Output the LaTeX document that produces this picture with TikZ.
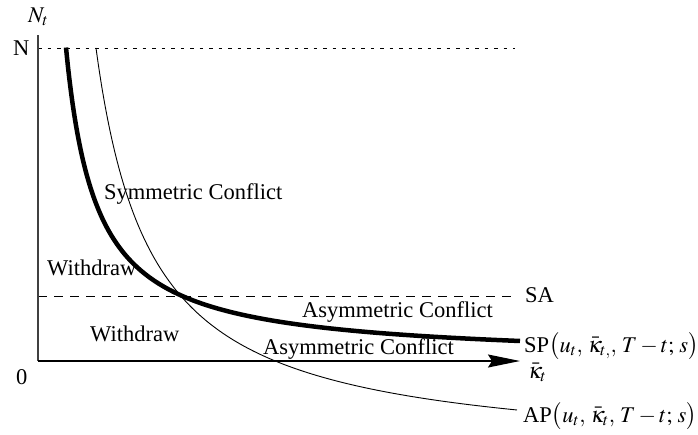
\documentclass[tikz,border=0pt]{standalone}
\usepackage{mathptmx}
\usepackage{fontspec}
\setmainfont{Liberation Serif}
\usetikzlibrary{arrows.meta}
\begin{document}
\begin{tikzpicture}[x=1pt,y=-1pt,
  lbl/.style={inner sep=0pt, anchor=base west, font=\fontsize{22.5}{27}\selectfont},
  axis/.style={line width=1.3pt, draw=black!75},
  thickcurve/.style={line width=4.5pt},
  thincurve/.style={line width=0.9pt},
  levelN/.style={line width=0.9pt, dash pattern=on 3.5pt off 6pt},
  levelSA/.style={line width=0.9pt, dash pattern=on 9pt off 7pt}]
\useasboundingbox (0,0) rectangle (698,434);
\coordinate (O) at (38,361);
\coordinate (Ytop) at (38,35);
\coordinate (Xend) at (520,361);
\coordinate (Nl) at (38,48);
\coordinate (Nr) at (515,48);
\coordinate (SAl) at (38,296);
\coordinate (SAr) at (518,296);
% levels
\draw[levelN] (Nl) -- (Nr);
\draw[levelSA] (SAl) -- (SAr);
% curves
\draw[thickcurve] plot[domain=66:520, samples=240, smooth] (\x, {360.5 - 94.51/((\x-35.8)/100)});
\draw[thincurve] plot[domain=96:517, samples=240, smooth] (\x, {457.5 - 226.34/((\x-40.73)/100)});
% axes
\draw[axis] (Ytop) -- (O);
\draw[line width=1.3pt, -{Stealth[length=32pt,width=13pt,inset=4pt]}] (O) -- (Xend);
% labels
\node[lbl] (nt) at (28,22) {$N_t$};
\node[lbl] (nN) at (13,55) {N};
\node[lbl] (n0) at (16,384) {0};
\node[lbl] (kap) at (528,378) {$\bar{\kappa}_t$};
\node[lbl] (sa) at (525,302) {SA};
\node[lbl] (sp) at (524,352) {SP$\bigl(u_t,\mkern2mu \bar{\kappa}_{t,},\mkern2mu T-t;\mkern2mu s\bigr)$};
\node[lbl] (ap) at (523,422) {AP$\bigl(u_t,\mkern2mu \bar{\kappa}_t,\mkern2mu T-t;\mkern2mu s\bigr)$};
\node[lbl] (sym) at (104,199) {Symmetric Conflict};
\node[lbl] (w1) at (47,275) {Withdraw};
\node[lbl] (w2) at (90,341) {Withdraw};
\node[lbl] (ac1) at (302,317) {Asymmetric Conflict};
\node[lbl] (ac2) at (263,354) {Asymmetric Conflict};
\end{tikzpicture}
\end{document}
